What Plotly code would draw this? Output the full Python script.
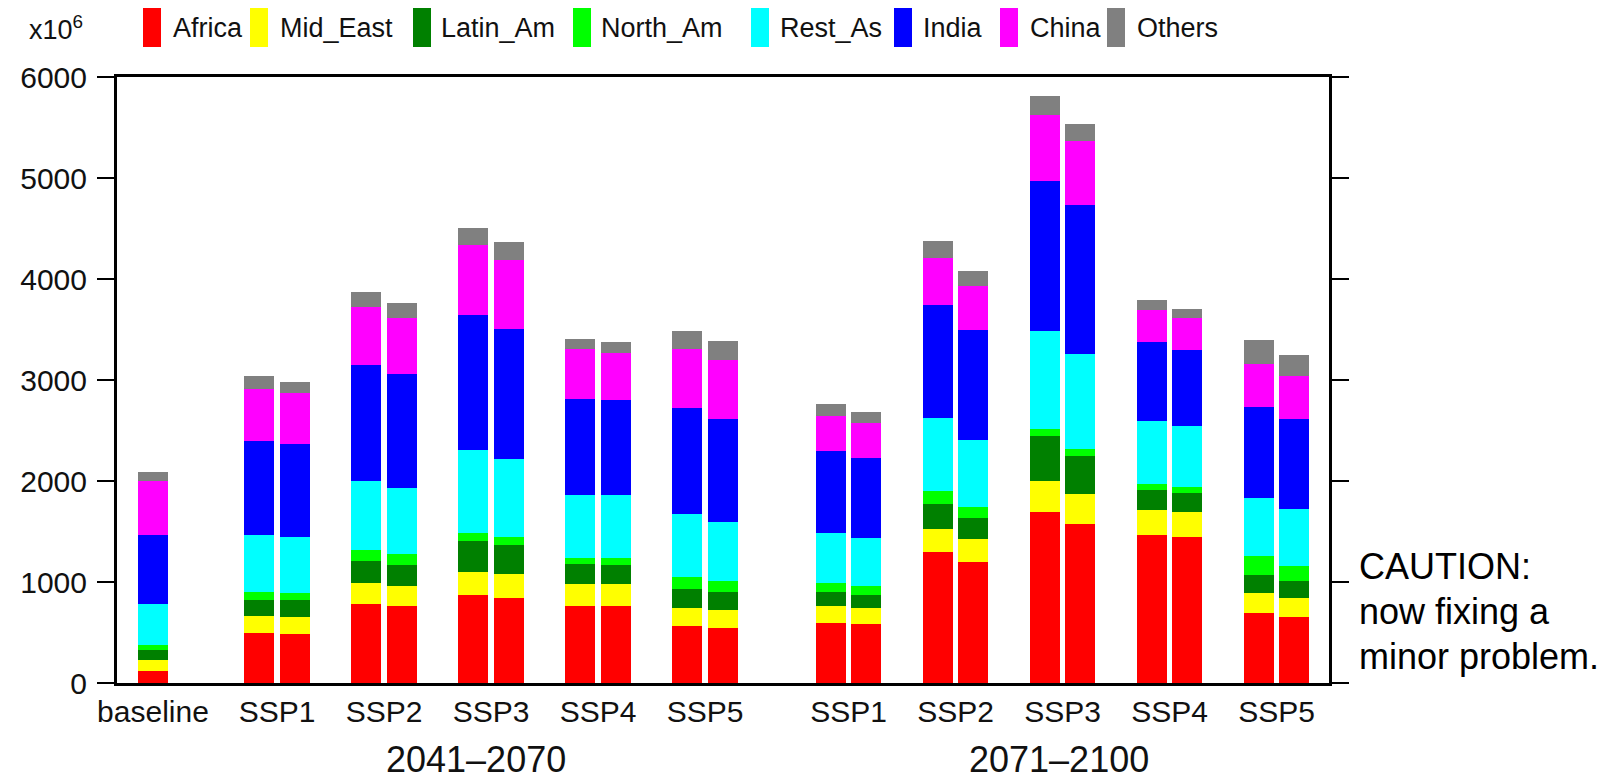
import plotly.graph_objects as go

# ---------------- data (x10^6) ----------------
# bar order: baseline, then 2041-2070 SSP1..SSP5 (two bars each), then 2071-2100 SSP1..SSP5 (two bars each)
regions = ["Africa", "Mid_East", "Latin_Am", "North_Am", "Rest_As", "India", "China", "Others"]
colors = ["#FF0000", "#FFFF00", "#008000", "#00FF00", "#00FFFF", "#0000FF", "#FF00FF", "#808080"]

africa   = [115, 496, 488, 787, 759, 874, 837, 764, 764, 564, 540,
            595, 585, 1301, 1198, 1697, 1575, 1464, 1444, 695, 654]
mid_east = [111, 168, 168, 205, 205, 229, 244, 217, 217, 183, 187,
            165, 160, 225, 225, 307, 298, 246, 253, 197, 184]
latin_am = [102, 156, 164, 214, 205, 300, 283, 193, 183, 184, 170,
            142, 127, 245, 213, 438, 377, 200, 184, 180, 172]
north_am = [53, 78, 74, 114, 111, 86, 77, 67, 77, 116, 110,
            86, 90, 131, 102, 73, 69, 65, 62, 188, 147]
rest_as  = [406, 566, 554, 677, 652, 820, 781, 624, 617, 624, 591,
            494, 475, 724, 671, 970, 941, 618, 605, 572, 569]
india    = [681, 935, 922, 1149, 1123, 1333, 1287, 947, 941, 1051, 1017,
            813, 788, 1112, 1084, 1484, 1472, 781, 753, 896, 888]
china    = [533, 509, 501, 578, 558, 697, 684, 494, 467, 584, 584,
            350, 347, 471, 442, 655, 634, 323, 310, 429, 421]
others   = [91, 127, 110, 147, 152, 168, 174, 100, 107, 183, 184,
            120, 113, 167, 143, 184, 164, 94, 90, 238, 217]

series = [africa, mid_east, latin_am, north_am, rest_as, india, china, others]

scenarios = ["SSP1", "SSP2", "SSP3", "SSP4", "SSP5"]
periods = ["2041\u20132070", "2071\u20132100"]
tick_labels = ["baseline"] + scenarios + scenarios

# ---------------- layout geometry ----------------
FONT = "Liberation Sans, Arial, Helvetica, sans-serif"
OFF = 8                      # page body margin of the html page
W, H = 1618 - OFF, 781 - OFF
PLOT_L, PLOT_R, PLOT_T, PLOT_B = 117, 1329, 77, 683   # plot area in window pixels
L = PLOT_L - OFF
T = PLOT_T - OFF
R = W - (PLOT_R - OFF)
B = H - (PLOT_B - OFF)
PW, PH = PLOT_R - PLOT_L, PLOT_B - PLOT_T

base_pos = 0.0
g1 = [1.16 + i for i in range(5)]
g2 = [6.5 + i for i in range(5)]
centers = [base_pos] + g1 + g2
off = 0.165
bw = 0.28

xs = [base_pos]
for c in g1 + g2:
    xs += [c - off, c + off]

fig = go.Figure()
for name, col, vals in zip(regions, colors, series):
    fig.add_trace(go.Bar(
        x=xs, y=vals, name=name, width=[bw] * len(xs),
        marker=dict(color=col, line=dict(width=0)),
        showlegend=False,
    ))

def px2paper_x(px):
    return (px - PLOT_L) / PW

def py2paper_y(py):
    return (PLOT_B - py) / PH

shapes = []
annotations = []

# custom legend (tall narrow swatches)
leg_rect_x = [143, 250, 413, 573, 751, 894, 1000, 1107]
leg_text_x = [171, 278, 439, 599, 778, 921, 1028, 1135]
for name, col, rx, tx in zip(regions, colors, leg_rect_x, leg_text_x):
    shapes.append(dict(type="rect", xref="paper", yref="paper",
                       x0=px2paper_x(rx), x1=px2paper_x(rx + 18),
                       y0=py2paper_y(47), y1=py2paper_y(8),
                       fillcolor=col, line=dict(width=0), layer="above"))
    annotations.append(dict(text=name, xref="paper", yref="paper",
                            x=px2paper_x(tx), y=py2paper_y(28),
                            xanchor="left", yanchor="middle", showarrow=False,
                            font=dict(family=FONT, size=27, color="#111")))

annotations.append(dict(text="x10<sup>6</sup>", xref="paper", yref="paper",
                        x=px2paper_x(27), y=py2paper_y(28),
                        xanchor="left", yanchor="middle", showarrow=False,
                        font=dict(family=FONT, size=27, color="#111")))

# period labels
for p, cx in zip(periods, [476, 1059]):
    annotations.append(dict(text=p, xref="paper", yref="paper",
                            x=px2paper_x(cx), y=py2paper_y(759),
                            xanchor="center", yanchor="middle", showarrow=False,
                            font=dict(family=FONT, size=36, color="#111")))

# caution note
for line, by in zip(["CAUTION:", "now fixing a", "minor problem."], [578, 623, 668]):
    annotations.append(dict(text=line, xref="paper", yref="paper",
                            x=px2paper_x(1357), y=py2paper_y(by - 12),
                            xanchor="left", yanchor="middle", showarrow=False,
                            font=dict(family=FONT, size=36, color="#000")))

fig.update_layout(
    width=W, height=H,
    margin=dict(l=L, r=R, t=T, b=B, pad=0),
    barmode="stack",
    bargap=0,
    plot_bgcolor="white", paper_bgcolor="white",
    font=dict(family=FONT, color="#111"),
    shapes=shapes, annotations=annotations,
    xaxis=dict(range=[-0.336, 10.99], tickvals=centers, ticktext=tick_labels,
               ticks="", showline=True, linecolor="black", linewidth=3, mirror=True,
               showgrid=False, zeroline=False,
               tickfont=dict(family=FONT, size=30, color="#111")),
    yaxis=dict(range=[0, 6000], tickvals=list(range(0, 6001, 1000)),
               ticks="outside", ticklen=17, tickwidth=2, tickcolor="black",
               showline=True, linecolor="black", linewidth=3, mirror="ticks",
               showgrid=False, zeroline=False, ticklabelstandoff=4,
               tickfont=dict(family=FONT, size=30, color="#111")),
)

fig.write_html("out.html")
